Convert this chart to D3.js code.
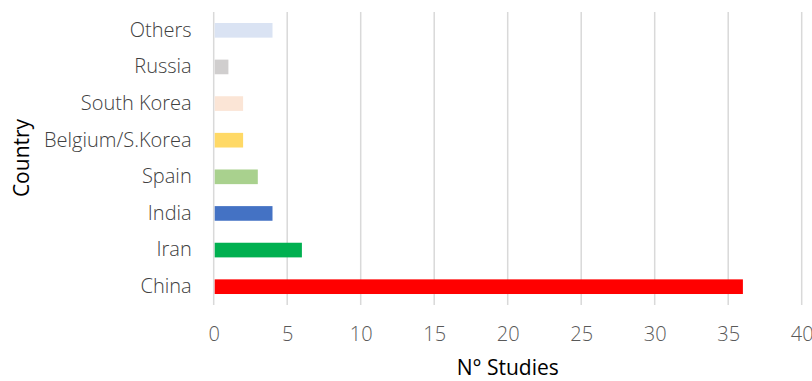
<!DOCTYPE html>
<html>
<head>
<meta charset="utf-8">
<script src="https://cdn.jsdelivr.net/npm/d3@7"></script>
<style>
  html, body { margin: 0; padding: 0; background: #fff; }
  svg { display: block; font-family: "Open Sans", Lato, sans-serif; }
</style>
</head>
<body>
<svg id="chart" width="812" height="381"></svg>
<script>
// Studies per country, listed bottom to top
const countries = ["China", "Iran", "India", "Spain", "Belgium/S.Korea", "South Korea", "Russia", "Others"];
const studies = [36, 6, 4, 3, 2, 2, 1, 4];
const barColors = ["#FF0000", "#00B050", "#4472C4", "#A9D18E", "#FFD966", "#FBE5D6", "#D0CECE", "#DAE3F3"];
const xTicks = [0, 5, 10, 15, 20, 25, 30, 35, 40];

const svg = d3.select("#chart");
const plot = { left: 213.7, right: 801.7, top: 12, bottom: 305 };
const font = "'Open Sans', Lato, sans-serif";

const x = d3.scaleLinear().domain([0, 40]).range([plot.left, plot.right]);
const y = d3.scaleBand()
  .domain(countries.slice().reverse())
  .range([plot.top, plot.bottom])
  .paddingInner(0.6)
  .paddingOuter(0.3);

// vertical gridlines
svg.append("g")
  .selectAll("line")
  .data(xTicks)
  .join("line")
  .attr("x1", d => x(d)).attr("x2", d => x(d))
  .attr("y1", plot.top).attr("y2", plot.bottom)
  .attr("stroke", "#d9d9d9")
  .attr("stroke-width", 1.5);

// bars
svg.append("g")
  .selectAll("rect")
  .data(countries.map((c, i) => ({ c, v: studies[i], col: barColors[i] })))
  .join("rect")
  .attr("x", x(0) + 1)
  .attr("y", d => y(d.c))
  .attr("width", d => x(d.v) - x(0) - 1)
  .attr("height", y.bandwidth())
  .attr("fill", d => d.col);

// x axis tick labels
const xAxis = d3.axisBottom(x).tickValues(xTicks).tickSize(0).tickPadding(0);
const gx = svg.append("g")
  .attr("transform", `translate(0,${plot.bottom + 22})`)
  .call(xAxis);
gx.select(".domain").remove();
gx.selectAll("text")
  .attr("fill", "#595959")
  .attr("font-size", 20)
  .attr("font-weight", 300)
  .attr("font-family", font);

// y axis category labels
const yAxis = d3.axisLeft(y).tickSize(0).tickPadding(22);
const gy = svg.append("g")
  .attr("transform", `translate(${plot.left},0)`)
  .call(yAxis);
gy.select(".domain").remove();
gy.selectAll("text")
  .attr("fill", "#404040")
  .attr("font-size", 20)
  .attr("font-weight", 300)
  .attr("font-family", font);

// axis titles
svg.append("text")
  .attr("x", x(20))
  .attr("y", 375)
  .attr("text-anchor", "middle")
  .attr("font-size", 21)
  .attr("fill", "#000")
  .text("N° Studies");

svg.append("text")
  .attr("transform", `translate(29,158) rotate(-90)`)
  .attr("text-anchor", "middle")
  .attr("font-size", 21)
  .attr("fill", "#000")
  .text("Country");
</script>
</body>
</html>
